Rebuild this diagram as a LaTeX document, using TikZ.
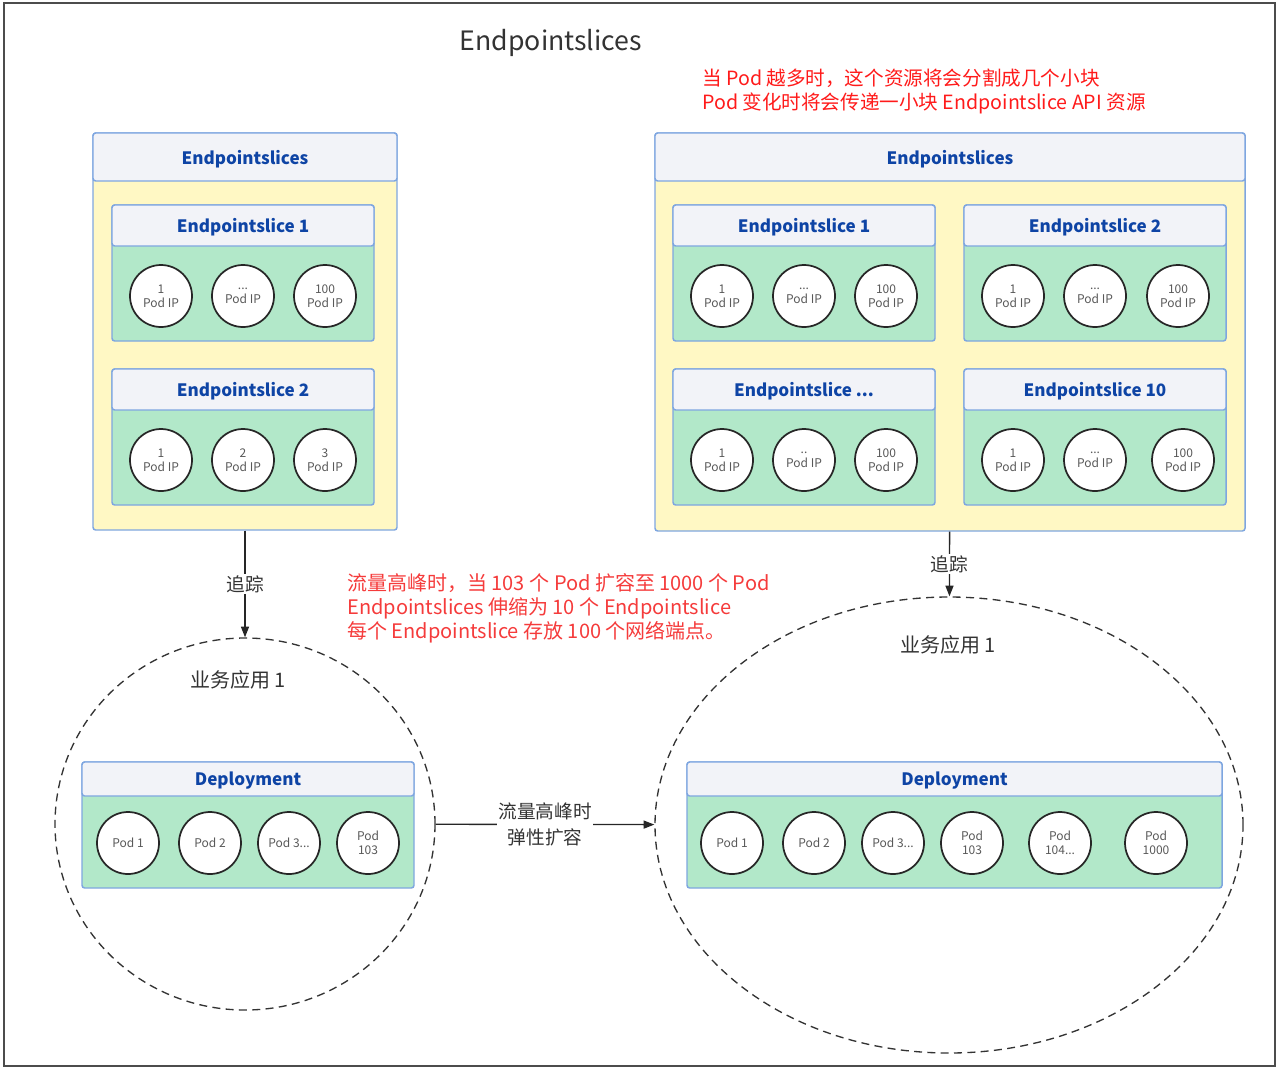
\documentclass[tikz,border=0pt]{standalone}
\usepackage{fontspec}
\setmainfont{Noto Sans CJK SC}
\usetikzlibrary{arrows.meta,shapes.geometric,fit}
\definecolor{boxline}{HTML}{7EA6E0}
\definecolor{hdrfill}{HTML}{F2F3F8}
\definecolor{hdrblue}{HTML}{0E44A5}
\definecolor{holdyellow}{HTML}{FFF8C4}
\definecolor{podgreen}{HTML}{B2E8C9}
\definecolor{notered}{HTML}{FF1A1A}
\definecolor{notered2}{HTML}{F53B3B}

\begin{document}
\begin{tikzpicture}[x=0.75pt,y=-0.75pt,
    every node/.append style={inner sep=0pt},
    box/.style={draw=boxline,line width=1.1pt,rounded corners=2pt},
    hdr/.style={box,fill=hdrfill},
    hdrtext/.style={text=hdrblue,yshift=-1.5pt,font=\bfseries\fontsize{12.8}{15}\selectfont},
    body/.style={box,fill=podgreen},
    holder/.style={box,fill=holdyellow},
    pod/.style={circle,draw=black!85,fill=white,line width=1.3pt,minimum size=46.5pt,
      align=center,text=black!65,font=\fontsize{9}{10.5}\selectfont},
    app/.style={ellipse,draw=black!80,line width=1pt,dash pattern=on 6pt off 4pt},
    link/.style={->,>={Triangle[length=8pt,width=6pt]},draw=black!85,line width=1pt},
    lbl/.style={fill=white,inner sep=1pt,text=black!80,align=center,font=\fontsize{14}{19}\selectfont}]
  \tikzstyle{note} = [anchor=west,align=left]
  \useasboundingbox (0,0) rectangle (1280,1071);
  \draw[black!70,line width=1.5pt] (4,3) rectangle (1275,1066);
  \node (title) [text=black!80,font=\fontsize{20}{24}\selectfont] at (551,43) {Endpointslices};
  \node (note1) [note,text=notered,font=\fontsize{14.7}{18}\selectfont] at (702,91)
    {当 Pod 越多时，这个资源将会分割成几个小块\\Pod 变化时将会传递一小块 Endpointslice API 资源};
  \node (note2) [note,text=notered2,font=\fontsize{15}{18}\selectfont] at (347,608)
    {流量高峰时，当 103 个 Pod 扩容至 1000 个 Pod\\Endpointslices 伸缩为 10 个 Endpointslice\\每个 Endpointslice 存放 100 个网络端点。};

  % left endpointslices
  \node (lhold) [holder,fit={(93,133) (397,530)}] {};
  \node (lhdr) [hdr,fit={(93,133) (397,181)},label={[hdrtext]center:Endpointslices}] {};
  \node (ls1) [body,fit={(112,205) (374,341)}] {};
  \node (ls1h) [hdr,fit={(112,205) (374,246)},label={[hdrtext]center:Endpointslice 1}] {};
  \foreach \x/\t [count=\i] in {161/1, 243/{...}, 325/100}
    \node (ls1p\i) [pod] at (\x,296) {\t\\Pod IP};
  \node (ls2) [body,fit={(112,369) (374,505)}] {};
  \node (ls2h) [hdr,fit={(112,369) (374,410)},label={[hdrtext]center:Endpointslice 2}] {};
  \foreach \x/\t [count=\i] in {161/1, 243/2, 325/3}
    \node (ls2p\i) [pod] at (\x,460) {\t\\Pod IP};

  % right endpointslices
  \node (rhold) [holder,fit={(655,133) (1245,531)}] {};
  \node (rhdr) [hdr,fit={(655,133) (1245,181)},label={[hdrtext]center:Endpointslices}] {};
  \node (rs1) [body,fit={(673,205) (935,341)}] {};
  \node (rs1h) [hdr,fit={(673,205) (935,246)},label={[hdrtext]center:Endpointslice 1}] {};
  \foreach \x/\t [count=\i] in {722/1, 804/{...}, 886/100}
    \node (rs1p\i) [pod] at (\x,296) {\t\\Pod IP};
  \node (rs2) [body,fit={(964,205) (1226,341)}] {};
  \node (rs2h) [hdr,fit={(964,205) (1226,246)},label={[hdrtext]center:Endpointslice 2}] {};
  \foreach \x/\t [count=\i] in {1013/1, 1095/{...}, 1178/100}
    \node (rs2p\i) [pod] at (\x,296) {\t\\Pod IP};
  \node (rs3) [body,fit={(673,369) (935,505)}] {};
  \node (rs3h) [hdr,fit={(673,369) (935,410)},label={[hdrtext]center:{Endpointslice ...}}] {};
  \foreach \x/\t [count=\i] in {722/1, 804/{..}, 886/100}
    \node (rs3p\i) [pod] at (\x,460) {\t\\Pod IP};
  \node (rs4) [body,fit={(964,369) (1226,505)}] {};
  \node (rs4h) [hdr,fit={(964,369) (1226,410)},label={[hdrtext]center:Endpointslice 10}] {};
  \foreach \x/\t [count=\i] in {1013/1, 1095/{...}, 1183/100}
    \node (rs4p\i) [pod] at (\x,460) {\t\\Pod IP};

  % apps
  \node (app1) [app,minimum width=285pt,minimum height=279pt] at (245,824) {};
  \node (app1t) [lbl,font=\fontsize{15}{18}\selectfont] at (238,680) {业务应用 1};
  \node (ldep) [body,fit={(82,762) (414,888)}] {};
  \node (ldeph) [hdr,fit={(82,762) (414,796)},label={[hdrtext]center:Deployment}] {};
  \node (lpod1) [pod] at (128,843) {Pod 1};
  \node (lpod2) [pod] at (210,843) {Pod 2};
  \node (lpod3) [pod] at (289,843) {Pod 3...};
  \node (lpod4) [pod] at (368,843) {Pod\\103};

  \node (app2) [app,minimum width=441pt,minimum height=342pt] at (949,825) {};
  \node (app2t) [lbl,font=\fontsize{15}{18}\selectfont] at (948,645) {业务应用 1};
  \node (rdep) [body,fit={(687,762) (1222,888)}] {};
  \node (rdeph) [hdr,fit={(687,762) (1222,796)},label={[hdrtext]center:Deployment}] {};
  \node (rpod1) [pod] at (732,843) {Pod 1};
  \node (rpod2) [pod] at (814,843) {Pod 2};
  \node (rpod3) [pod] at (893,843) {Pod 3...};
  \node (rpod4) [pod] at (972,843) {Pod\\103};
  \node (rpod5) [pod] at (1060,843) {Pod\\104...};
  \node (rpod6) [pod] at (1156,843) {Pod\\1000};

  \draw[link] (lhold) -- node[lbl] {追踪} (app1);
  \draw[link] (rhold) -- node[lbl] {追踪} (app2);
  \draw[link] (app1) -- node[lbl] {流量高峰时\\弹性扩容} (app2);
\end{tikzpicture}
\end{document}
